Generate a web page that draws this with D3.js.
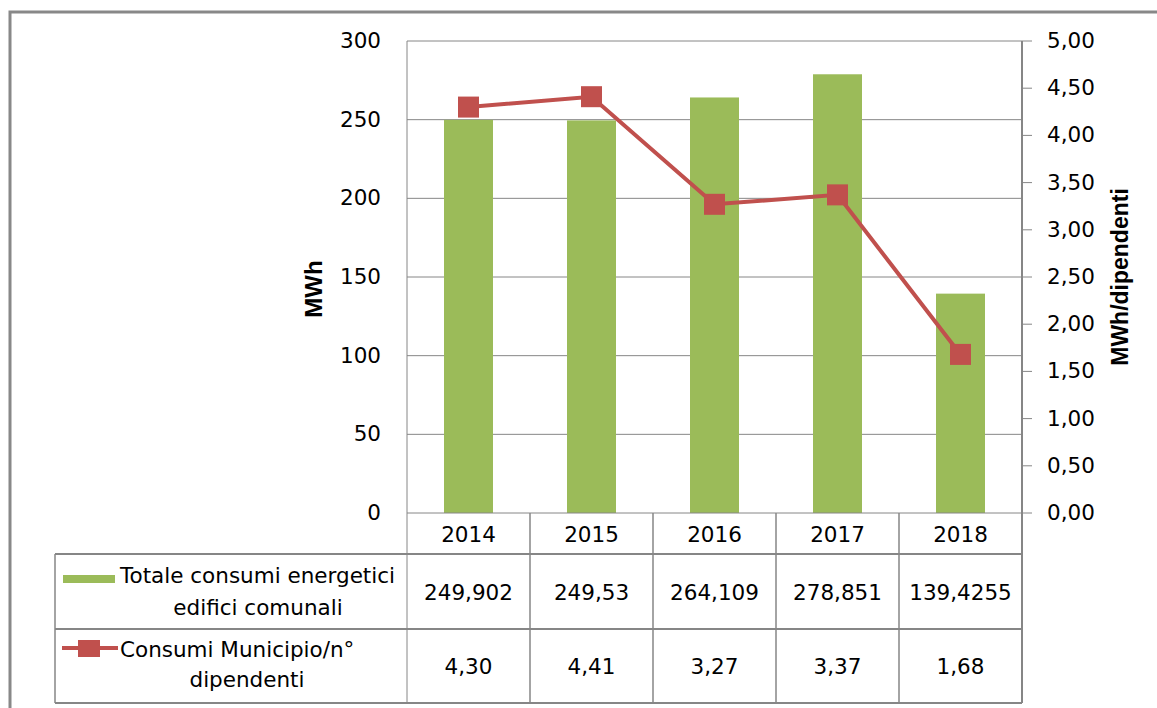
<!DOCTYPE html>
<html>
<head>
<meta charset="utf-8">
<script src="https://cdn.jsdelivr.net/npm/d3@7"></script>
<style>
  body { margin: 0; background: #fff; }
  text { font-family: "DejaVu Sans", sans-serif; fill: #000; }
</style>
</head>
<body>
<script>
// data
years = ["2014", "2015", "2016", "2017", "2018"]
totale = [249.902, 249.53, 264.109, 278.851, 139.4255]
totaleLabels = ["249,902", "249,53", "264,109", "278,851", "139,4255"]
perDip = [4.30, 4.41, 3.27, 3.37, 1.68]
perDipLabels = ["4,30", "4,41", "3,27", "3,37", "1,68"]
leftTicks = [0, 50, 100, 150, 200, 250, 300]
rightTicks = [0, 0.5, 1, 1.5, 2, 2.5, 3, 3.5, 4, 4.5, 5]

width = 1157
height = 708
plotL = 407, plotR = 1022, plotT = 41, plotB = 513
row1 = 554, row2 = 629, row3 = 703
legL = 55
fs = 21.5

green = "#9BBB59"
red = "#C0504D"
grid = "#868686"

svg = d3.select("body").append("svg")
    .attr("width", width)
    .attr("height", height)

// outer border
svg.append("rect")
    .attr("x", 10).attr("y", 12)
    .attr("width", 1160).attr("height", 720)
    .attr("fill", "white")
    .attr("stroke", "#888").attr("stroke-width", 3)

x = d3.scaleBand().domain(years).range([plotL, plotR])
yL = d3.scaleLinear().domain([0, 300]).range([plotB, plotT])
yR = d3.scaleLinear().domain([0, 5]).range([plotB, plotT])

// gridlines
svg.selectAll("line.grid")
    .data(leftTicks.slice(1))
    .enter().append("line")
    .attr("x1", plotL).attr("x2", plotR)
    .attr("y1", d => yL(d)).attr("y2", d => yL(d))
    .attr("stroke", grid).attr("stroke-width", 1)

// bars
bw = 49
svg.selectAll("rect.bar")
    .data(totale)
    .enter().append("rect")
    .attr("x", (d, i) => x(years[i]) + x.bandwidth() / 2 - bw / 2)
    .attr("width", bw)
    .attr("y", d => yL(d))
    .attr("height", d => plotB - yL(d))
    .attr("fill", green)

// left axis labels
svg.selectAll("text.yl")
    .data(leftTicks)
    .enter().append("text")
    .attr("x", 381)
    .attr("y", d => yL(d) + 7)
    .attr("text-anchor", "end")
    .attr("font-size", fs)
    .text(d => d)

// right axis
svg.append("line")
    .attr("x1", plotR).attr("x2", plotR)
    .attr("y1", plotT).attr("y2", row3)
    .attr("stroke", grid).attr("stroke-width", 2)
svg.selectAll("line.rt")
    .data(rightTicks)
    .enter().append("line")
    .attr("x1", plotR).attr("x2", 1032)
    .attr("y1", d => yR(d)).attr("y2", d => yR(d))
    .attr("stroke", grid).attr("stroke-width", 1)
svg.selectAll("text.yr")
    .data(rightTicks)
    .enter().append("text")
    .attr("x", 1047)
    .attr("y", d => yR(d) + 7)
    .attr("font-size", fs)
    .text(d => d3.format(".2f")(d).replace(".", ","))

// left axis line (plot border)
svg.append("line")
    .attr("x1", plotL).attr("x2", plotL)
    .attr("y1", plotT).attr("y2", row3)
    .attr("stroke", grid).attr("stroke-width", 1)

// axis titles
svg.append("text")
    .attr("transform", "translate(322,289) rotate(-90)")
    .attr("text-anchor", "middle")
    .attr("font-size", 24).attr("font-weight", "bold")
    .style("font-family", "'Liberation Sans', Arial, sans-serif")
    .text("MWh")
svg.append("text")
    .attr("transform", "translate(1128,277) rotate(-90)")
    .attr("text-anchor", "middle")
    .attr("font-size", 23).attr("font-weight", "bold")
    .style("font-family", "'Liberation Sans', Arial, sans-serif")
    .text("MWh/dipendenti")

// line series
line = d3.line()
    .x((d, i) => x(years[i]) + x.bandwidth() / 2)
    .y(d => yR(d))
svg.append("path")
    .datum(perDip)
    .attr("d", line)
    .attr("fill", "none")
    .attr("stroke", red)
    .attr("stroke-width", 4)
ms = 21
svg.selectAll("rect.mk")
    .data(perDip)
    .enter().append("rect")
    .attr("x", (d, i) => x(years[i]) + x.bandwidth() / 2 - ms / 2)
    .attr("y", d => yR(d) - ms / 2)
    .attr("width", ms).attr("height", ms)
    .attr("fill", red)

// data table
tbl = svg.append("g")
hl = [[plotL, plotB], [legL, row1], [legL, row2], [legL, row3]]
hl.forEach(function(h) {
    tbl.append("line")
        .attr("x1", h[0]).attr("x2", plotR)
        .attr("y1", h[1]).attr("y2", h[1])
        .attr("stroke", grid).attr("stroke-width", h[1] == plotB ? 1 : 2)
})
tbl.append("line")
    .attr("x1", legL).attr("x2", legL)
    .attr("y1", row1).attr("y2", row3)
    .attr("stroke", grid).attr("stroke-width", 1.5)
years.forEach(function(yr, i) {
    if (i > 0) {
        tbl.append("line")
            .attr("x1", x(yr)).attr("x2", x(yr))
            .attr("y1", plotB).attr("y2", row3)
            .attr("stroke", grid).attr("stroke-width", 1.5)
    }
})
tbl.selectAll("text.yr")
    .data(years)
    .enter().append("text")
    .attr("x", d => x(d) + x.bandwidth() / 2)
    .attr("y", (plotB + row1) / 2 + 8)
    .attr("text-anchor", "middle")
    .attr("font-size", fs)
    .text(d => d)
tbl.selectAll("text.v1")
    .data(totaleLabels)
    .enter().append("text")
    .attr("x", (d, i) => x(years[i]) + x.bandwidth() / 2)
    .attr("y", (row1 + row2) / 2 + 8)
    .attr("text-anchor", "middle")
    .attr("font-size", fs)
    .text(d => d)
tbl.selectAll("text.v2")
    .data(perDipLabels)
    .enter().append("text")
    .attr("x", (d, i) => x(years[i]) + x.bandwidth() / 2)
    .attr("y", (row2 + row3) / 2 + 8)
    .attr("text-anchor", "middle")
    .attr("font-size", fs)
    .text(d => d)

// legend keys
tbl.append("rect")
    .attr("x", 63).attr("y", 575)
    .attr("width", 52).attr("height", 8)
    .attr("fill", green)
tbl.append("text")
    .attr("x", 120).attr("y", 583)
    .attr("font-size", fs)
    .text("Totale consumi energetici")
tbl.append("text")
    .attr("x", 258).attr("y", 615)
    .attr("text-anchor", "middle")
    .attr("font-size", fs)
    .text("edifici comunali")
tbl.append("line")
    .attr("x1", 62).attr("x2", 118)
    .attr("y1", 648).attr("y2", 648)
    .attr("stroke", red).attr("stroke-width", 4)
tbl.append("rect")
    .attr("x", 78).attr("y", 640)
    .attr("width", 22).attr("height", 17)
    .attr("fill", red)
tbl.append("text")
    .attr("x", 120).attr("y", 657)
    .attr("font-size", fs)
    .text("Consumi Municipio/n°")
tbl.append("text")
    .attr("x", 247).attr("y", 687)
    .attr("text-anchor", "middle")
    .attr("font-size", fs)
    .text("dipendenti")
</script>
</body>
</html>
